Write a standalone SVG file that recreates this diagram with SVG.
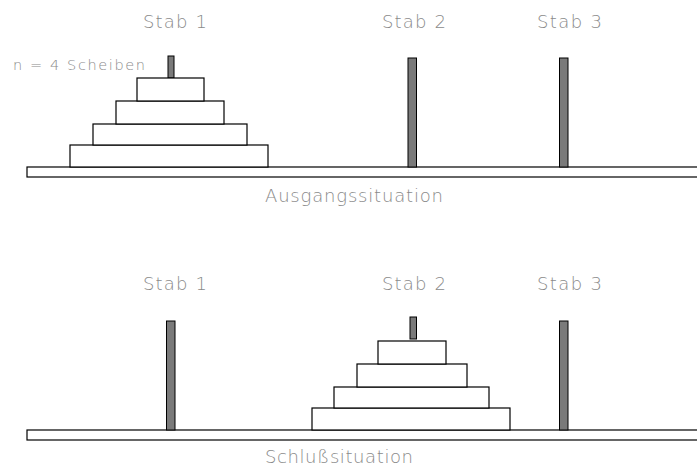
<svg xmlns="http://www.w3.org/2000/svg" width="697" height="466" viewBox="0 0 697 466">
<style>
.lbl{font-family:"DejaVu Sans","Liberation Sans",sans-serif;font-weight:200;fill:#8a8a8a;font-size:18px}
.small{font-size:14.5px}
.base{fill:#fff;stroke:#000;stroke-width:1.2}
.disc{fill:#fff;stroke:#000;stroke-width:1.2}
.peg{fill:#7a7a7a;stroke:#000;stroke-width:1}
</style>
<rect width="697" height="466" fill="#fff"/>
<g id="top">
  <g id="base-top"><rect class="base" x="27" y="167" width="680" height="10"/></g>
  <g id="stab1-top">
    <text class="lbl" x="143" y="28" textLength="64" lengthAdjust="spacing">Stab 1</text>
    <rect class="peg" x="168" y="56" width="6" height="22"/>
    <rect class="disc" x="70" y="145" width="198" height="22"/>
    <rect class="disc" x="93" y="124" width="154" height="21"/>
    <rect class="disc" x="116" y="101" width="108" height="23"/>
    <rect class="disc" x="137" y="78" width="67" height="23"/>
    <text class="lbl small" x="13" y="70" textLength="132" lengthAdjust="spacing">n = 4 Scheiben</text>
  </g>
  <g id="stab2-top">
    <text class="lbl" x="382" y="28" textLength="64" lengthAdjust="spacing">Stab 2</text>
    <rect class="peg" x="408" y="58" width="8.5" height="109"/>
  </g>
  <g id="stab3-top">
    <text class="lbl" x="537" y="28" textLength="65" lengthAdjust="spacing">Stab 3</text>
    <rect class="peg" x="559.5" y="58" width="8.5" height="109"/>
  </g>
  <text class="lbl" x="265" y="202" textLength="178" lengthAdjust="spacing">Ausgangssituation</text>
</g>
<g id="bottom">
  <g id="base-bottom"><rect class="base" x="27" y="430" width="680" height="10"/></g>
  <g id="stab1-bottom">
    <text class="lbl" x="143" y="290" textLength="64" lengthAdjust="spacing">Stab 1</text>
    <rect class="peg" x="166.5" y="321" width="8.5" height="109"/>
  </g>
  <g id="stab2-bottom">
    <text class="lbl" x="382" y="290" textLength="64" lengthAdjust="spacing">Stab 2</text>
    <rect class="peg" x="410" y="317" width="6.5" height="22"/>
    <rect class="disc" x="312" y="408" width="198" height="22"/>
    <rect class="disc" x="334" y="387" width="155" height="21"/>
    <rect class="disc" x="357" y="364" width="110" height="23"/>
    <rect class="disc" x="378" y="341" width="68" height="23"/>
  </g>
  <g id="stab3-bottom">
    <text class="lbl" x="537" y="290" textLength="65" lengthAdjust="spacing">Stab 3</text>
    <rect class="peg" x="559.5" y="321" width="8.5" height="109"/>
  </g>
  <text class="lbl" x="265" y="463" textLength="148" lengthAdjust="spacing">Schlußsituation</text>
</g>
</svg>
